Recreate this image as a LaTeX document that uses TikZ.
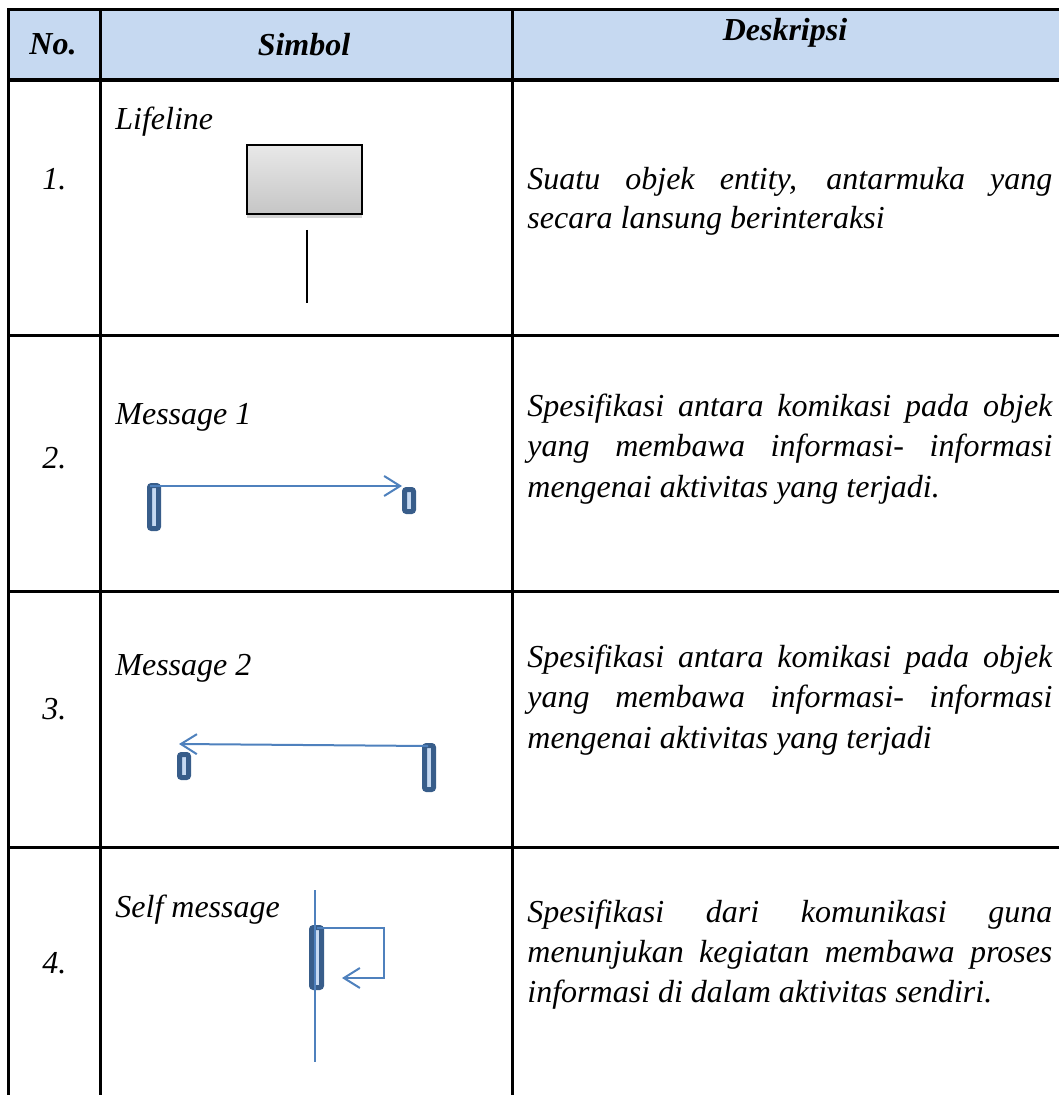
\documentclass[tikz,border=0pt]{standalone}
\usepackage{fontspec}
\setmainfont{Liberation Serif}
\usetikzlibrary{arrows.meta,shadows}
\definecolor{headblue}{HTML}{C6D9F1}
\definecolor{msgblue}{HTML}{4F81BD}
\definecolor{actdark}{HTML}{385D8A}
\definecolor{actlight}{HTML}{C6D9F1}
\newcommand{\jline}[1]{\makebox[262.5pt][s]{#1}}
\tikzset{
  grid/.style={line width=1.5pt, black},
  headtxt/.style={font=\fontsize{16}{19}\selectfont\bfseries\itshape, inner sep=0pt, anchor=base},
  bodytxt/.style={font=\fontsize{16}{19}\selectfont\itshape, inner sep=0pt, anchor=base west},
  actbox/.style={draw=actdark, fill=actlight, line width=2.5pt, rounded corners=1pt, inner sep=0pt, minimum width=4.5pt},
  msg/.style={draw=msgblue, line width=1pt},
  msgtip/.style={-{Straight Barb[length=8pt,width=10pt,line width=1pt]}},
  lifebox/.style={draw=black, line width=1pt, top color=gray!18, bottom color=gray!45,
    minimum width=57.5pt, minimum height=34.5pt, inner sep=0pt,
    drop shadow={shadow xshift=0pt, shadow yshift=-2pt, opacity=0.35}},
}
\begin{document}
\begin{tikzpicture}[x=0.5pt, y=-0.5pt]
\useasboundingbox (0,0) rectangle (1059,1095);

% header band
\fill[headblue] (8,10) rectangle (1059,80);

% table rules
\foreach \yy in {10,336,591,847} \draw[grid] (7,\yy) -- (1059,\yy);
\draw[line width=2pt] (7,80) -- (1059,80);
\foreach \xx in {8,100,512} \draw[grid] (\xx,9) -- (\xx,1095);

% header
\node[headtxt] (hno)   at (53,55)  {No.};
\node[headtxt] (hsym)  at (304,56) {Simbol};
\node[headtxt] (hdesc) at (785,41) {Deskripsi};

% row numbers
\node[bodytxt] (n1) at (42,190) {1.};
\node[bodytxt] (n2) at (42,468) {2.};
\node[bodytxt] (n3) at (42,719) {3.};
\node[bodytxt] (n4) at (42,973) {4.};

% symbol labels
\node[bodytxt] (l1) at (115,130) {Lifeline};
\node[bodytxt] (l2) at (115,425) {Message 1};
\node[bodytxt] (l3) at (115,675) {Message 2};
\node[bodytxt] (l4) at (115,917) {Self message};

% descriptions
\node[bodytxt] (d1a) at (527,190) {\jline{Suatu objek entity, antarmuka yang}};
\node[bodytxt] (d1b) at (527,229) {secara lansung berinteraksi};

\node[bodytxt] (d2a) at (527,417) {\jline{Spesifikasi antara komikasi pada objek}};
\node[bodytxt] (d2b) at (527,457) {\jline{yang membawa informasi- informasi}};
\node[bodytxt] (d2c) at (527,497) {mengenai aktivitas yang terjadi.};

\node[bodytxt] (d3a) at (527,667) {\jline{Spesifikasi antara komikasi pada objek}};
\node[bodytxt] (d3b) at (527,707) {\jline{yang membawa informasi- informasi}};
\node[bodytxt] (d3c) at (527,748) {mengenai aktivitas yang terjadi};

\node[bodytxt] (d4a) at (527,922) {\jline{Spesifikasi dari komunikasi guna}};
\node[bodytxt] (d4b) at (527,962) {\jline{menunjukan kegiatan membawa proses}};
\node[bodytxt] (d4c) at (527,1002) {informasi di dalam aktivitas sendiri.};

% 1. lifeline
\node[lifebox] (obj) at (304.5,179.5) {};
\coordinate (lltop) at (307,230);
\coordinate (llbot) at (307,303);
\draw[line width=1pt] (lltop) -- (llbot);

% 2. message 1
\node[actbox, minimum height=21.5pt] (a1) at (154,507) {};
\node[actbox, minimum height=11pt]   (a2) at (409,500.5) {};
\coordinate (m1s) at (150,486);
\coordinate (m1e) at (402,486);
\draw[msg, msgtip] (m1s) -- (m1e);

% 3. message 2
\node[actbox, minimum height=11.5pt] (b1) at (184,766) {};
\node[actbox, minimum height=22pt]   (b2) at (429,767.5) {};
\coordinate (m2s) at (428,746);
\coordinate (m2e) at (179,744);
\draw[msg, msgtip] (m2s) -- (m2e);

% 4. self message
\node[actbox, minimum width=5pt, minimum height=30pt] (c1) at (316.5,957.5) {};
\coordinate (sltop) at (315,890);
\coordinate (slbot) at (315,1062);
\draw[msg, line width=0.8pt] (sltop) -- (slbot);
\coordinate (s0) at (317,928);
\coordinate (s1) at (384,928);
\coordinate (s2) at (384,978);
\coordinate (s3) at (342,978);
\draw[msg, msgtip] (s0) -- (s1) -- (s2) -- (s3);
\end{tikzpicture}
\end{document}
